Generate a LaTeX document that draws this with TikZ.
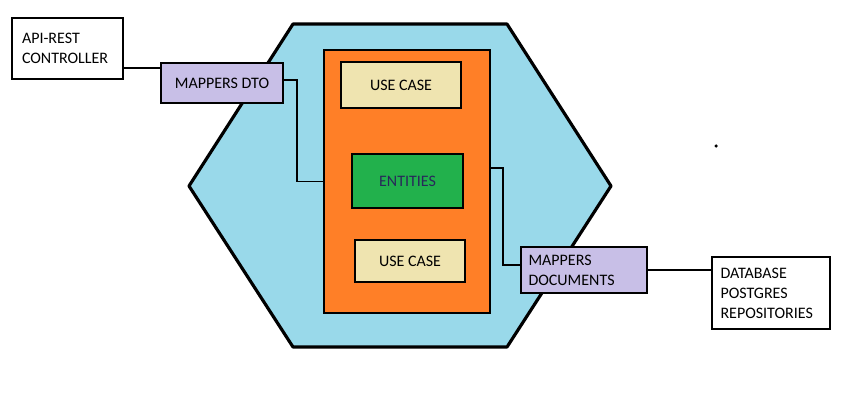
\documentclass[tikz,border=0pt]{standalone}
\usepackage{fontspec}
\setmainfont{Carlito}
\usepackage{xcolor}
\usepackage{tikz}
\usetikzlibrary{calc}

\definecolor{hexblue}{RGB}{153,217,234}
\definecolor{coreorange}{RGB}{255,127,39}
\definecolor{entgreen}{RGB}{34,177,76}
\definecolor{casecream}{RGB}{239,228,176}
\definecolor{maplilac}{RGB}{200,191,231}
\definecolor{enttext}{RGB}{40,40,90}

\begin{document}
\begin{tikzpicture}[x=0.02cm, y=-0.02cm,
    every node/.style={font=\fontsize{9.1}{11.4}\selectfont},
    box/.style={draw, line width=1.3pt, inner ysep=0pt, align=left},
    mapper/.style={box, fill=maplilac},
    usecase/.style={draw, line width=1.3pt, fill=casecream},
    wire/.style={line width=1pt}]
    \useasboundingbox (0,0) rectangle (847,413);
    % Hexagon
    \draw[fill=hexblue, line width=1.8pt, line join=round]
        (293,24) -- (507,24) -- (611,186) -- (507,347) -- (293,347) -- (189,186) -- cycle;
    % Core
    \node[draw, line width=1.3pt, fill=coreorange, minimum width=3.32cm, minimum height=5.26cm] (core) at (407,181.5) {};
    \node[usecase, minimum width=2.4cm, minimum height=0.92cm] (case1) at (401,85) {USE CASE};
    \node[draw, line width=1.3pt, fill=entgreen, text=enttext, minimum width=2.22cm, minimum height=1.08cm] (ent) at (407.5,181) {ENTITIES};
    \node[usecase, minimum width=2.2cm, minimum height=0.84cm] (case2) at (410,261) {USE CASE};
    % Outside
    \node[box, fill=white, inner xsep=0.2cm, text width=1.82cm, minimum height=1.22cm] (api) at (67.5,48.5) {API-REST\\CONTROLLER};
    \node[box, fill=white, inner xsep=0.17cm, text width=2.02cm, minimum height=1.44cm] (db) at (771,293) {DATABASE\\POSTGRES\\REPOSITORIES};
    % Mappers
    \node[mapper, align=center, minimum width=2.44cm, minimum height=0.8cm] (dto) at (222,83) {MAPPERS DTO};
    \node[mapper, inner xsep=0.15cm, text width=2.22cm, minimum height=0.92cm] (docs) at (584,270) {MAPPERS\\DOCUMENTS};
    % Wires
    \coordinate (j1) at (142,68);
    \coordinate (b1) at (297,80);
    \coordinate (b2) at (503,168);
    \coordinate (b3) at (503,265);
    \draw[wire] (api.east |- j1) -- (dto.west |- j1);
    \draw[wire] (dto.east |- b1) -- (b1) |- (core.west);
    \draw[wire] (core.east |- b2) -- (b2) -- (b3) -- (docs.west |- b3);
    \draw[wire] (docs.east) -- (db.west |- docs.east);
    % Stray dot
    \fill (716,146) circle (1pt);
\end{tikzpicture}
\end{document}
